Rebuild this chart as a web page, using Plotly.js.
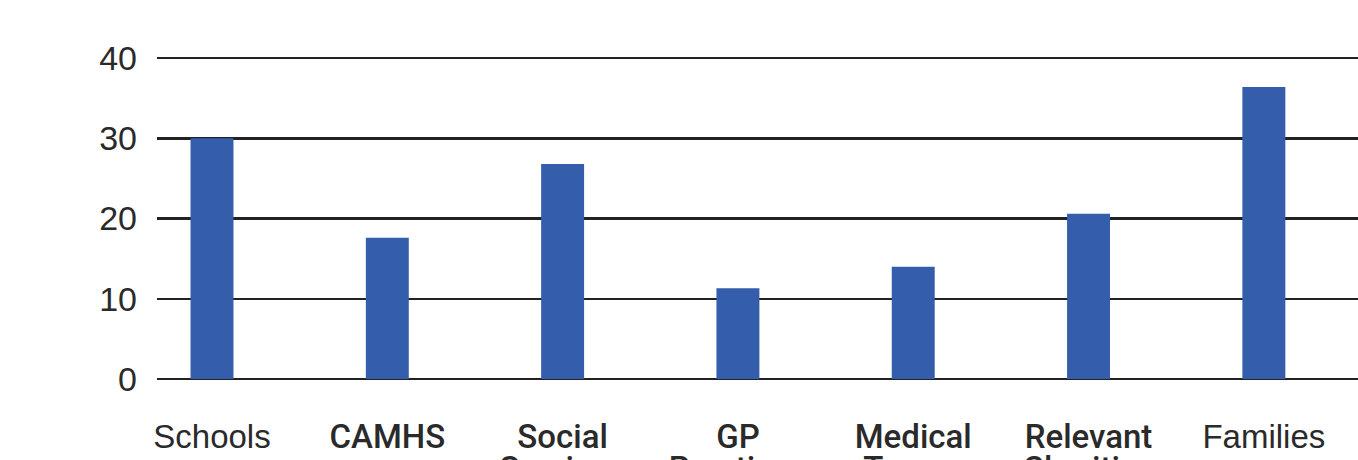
<!DOCTYPE html>
<html>
<head>
<meta charset="utf-8">
<script src="https://cdn.plot.ly/plotly-3.0.1.min.js"></script>
<style>
  html, body { margin: 0; padding: 0; background: #ffffff; }
  #chart { width: 1358px; height: 460px; }
</style>
</head>
<body>
<div id="chart"></div>
<script>
// Data
const categories = ["Schools", "CAMHS", "Social Services", "GP Practices", "Medical Teams", "Relevant Charities", "Families"];
const values = [30.0, 17.6, 26.8, 11.3, 14.0, 20.6, 36.4];
const labelFirstLine = ["Schools", "CAMHS", "Social", "GP", "Medical", "Relevant", "Families"];
const labelSecondLine = ["", "", "Services", "Practices", "Teams", "Charities", ""];
const labelMedium = [false, true, true, true, true, true, false];
const yTicks = [0, 10, 20, 30, 40];

const styleLabel = (t, i) =>
  labelMedium[i] ? '<span style="font-family:Roboto;font-weight:500">' + t + '</span>' : t;

const xRange = [-0.3137, 6.537];
const catIndex = categories.map((c, i) => i);

const trace = {
  type: "bar",
  x: categories,
  y: values,
  width: 0.245,
  marker: { color: "#345dab", line: { width: 0 } },
  hoverinfo: "x+y"
};

// invisible helper so the second-line label axis is drawn
const helper = {
  type: "scatter",
  mode: "markers",
  x: catIndex,
  y: values,
  xaxis: "x2",
  yaxis: "y",
  marker: { opacity: 0, size: 1 },
  hoverinfo: "skip",
  showlegend: false
};

const layout = {
  width: 1358,
  height: 460,
  margin: { l: 157, r: 0, t: 54, b: 81, pad: 0 },
  paper_bgcolor: "#ffffff",
  plot_bgcolor: "#ffffff",
  showlegend: false,
  font: { family: "Liberation Sans, Arial, sans-serif", color: "#2a2a2a" },
  xaxis: {
    type: "category",
    range: xRange,
    tickmode: "array",
    tickvals: categories,
    ticktext: labelFirstLine.map(styleLabel),
    tickfont: { size: 33, color: "#2a2a2a" },
    ticks: "",
    ticklabelstandoff: 35,
    showgrid: false,
    zeroline: false,
    showline: false,
    fixedrange: true
  },
  xaxis2: {
    type: "linear",
    overlaying: "x",
    anchor: "y",
    side: "bottom",
    range: xRange,
    tickmode: "array",
    tickvals: catIndex,
    ticktext: labelSecondLine.map(styleLabel),
    tickfont: { size: 33, color: "#2a2a2a" },
    ticks: "",
    ticklabelstandoff: 67,
    showgrid: false,
    zeroline: false,
    showline: false,
    fixedrange: true
  },
  yaxis: {
    range: [0, 40.5],
    tickmode: "array",
    tickvals: yTicks,
    ticktext: yTicks.map(String),
    tickfont: { size: 34, color: "#2a2a2a" },
    ticks: "",
    ticklabelstandoff: 19,
    showgrid: true,
    gridcolor: "#222222",
    gridwidth: 2.5,
    zeroline: true,
    zerolinecolor: "#222222",
    zerolinewidth: 2.5,
    showline: false,
    fixedrange: true
  }
};

Plotly.newPlot("chart", [trace, helper], layout, { displayModeBar: false, staticPlot: true });
</script>
</body>
</html>
